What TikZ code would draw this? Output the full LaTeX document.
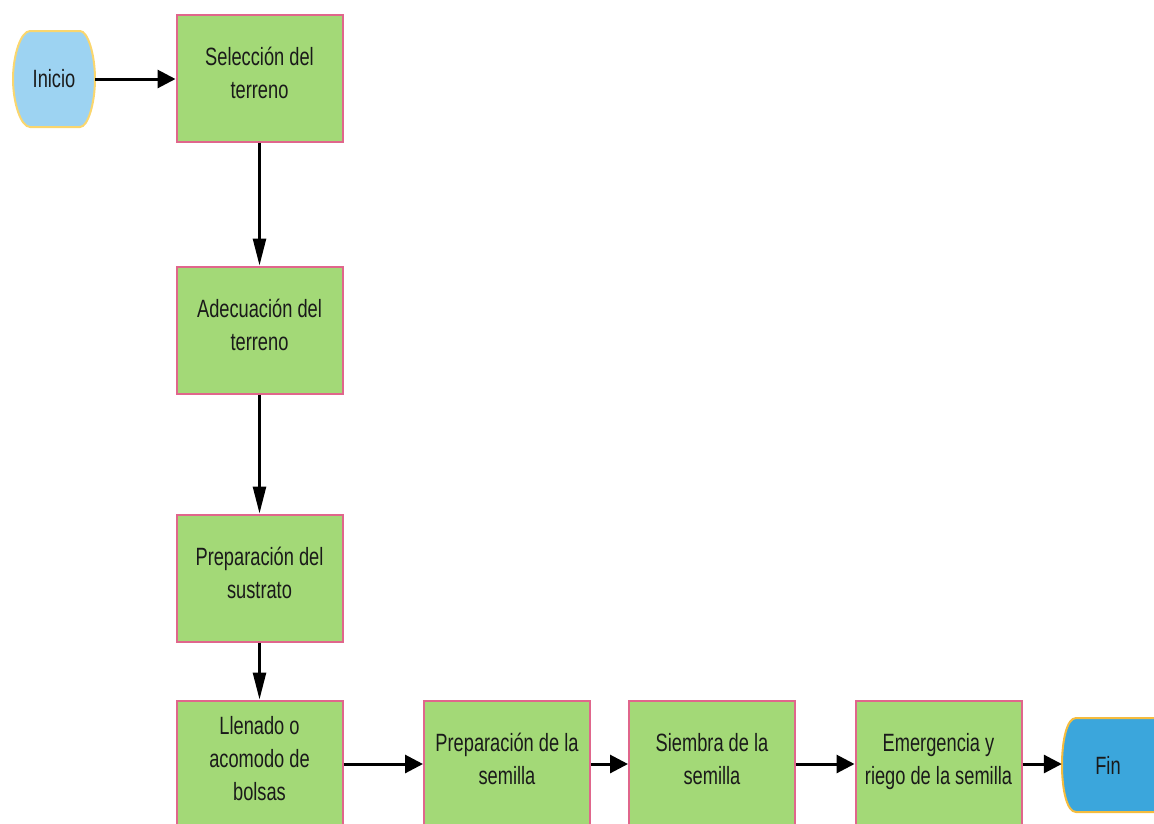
\documentclass[tikz,border=0pt]{standalone}
\usepackage{fontspec}
\newfontfamily\lblfont[FakeStretch=0.73]{Liberation Sans}
\usetikzlibrary{arrows.meta}
\definecolor{boxgreen}{HTML}{A3D977}
\definecolor{boxpink}{HTML}{E0668C}
\definecolor{startblue}{HTML}{9DD3F2}
\definecolor{startedge}{HTML}{FAD66E}
\definecolor{endblue}{HTML}{3BA6DC}
\definecolor{endedge}{HTML}{F5BC3E}
\definecolor{txt}{HTML}{1A1A1A}
\begin{document}
\begin{tikzpicture}[x=1pt,y=-1pt,
  lbl/.style={font=\lblfont\fontsize{25}{33}\selectfont, text=txt, align=center},
  stepbox/.style={lbl, draw=boxpink, line width=2pt, fill=boxgreen,
    minimum width=166pt, minimum height=127pt, inner sep=0pt, text depth=11pt},
  termnode/.style={lbl, inner sep=0pt},
  harrow/.style={line width=3pt, -{Triangle[length=18pt,width=18pt]}},
  varrow/.style={line width=2.6pt, -{Triangle[length=27pt,width=13pt]}}]
\useasboundingbox (0,0) rectangle (1154,823);
\clip (0,0) rectangle (1154,823);

% start terminator: flat top and bottom, bulging sides
\draw[fill=startblue, draw=startedge, line width=2pt]
  (30,31) -- (80,31) .. controls (88,31) and (95,55) .. (95,79)
  .. controls (95,103) and (88,127) .. (80,127) -- (30,127)
  .. controls (21,127) and (13,103) .. (13,79)
  .. controls (13,55) and (21,31) .. (30,31) -- cycle;
\node[termnode, minimum width=82pt, minimum height=96pt] (ini) at (54,79) {Inicio};

% end terminator
\draw[fill=endblue, draw=endedge, line width=2pt]
  (1076,718) -- (1170,718) -- (1170,812) -- (1076,812)
  .. controls (1067,812) and (1062,790) .. (1062,765)
  .. controls (1062,740) and (1067,718) .. (1076,718) -- cycle;
\node[termnode, minimum width=92pt, minimum height=94pt] (fin) at (1108,765) {Fin};

% process steps
\node[stepbox] (sel) at (259.5,78)  {Selección del\\terreno};
\node[stepbox] (ade) at (259.5,330) {Adecuación del\\terreno};
\node[stepbox] (sus) at (259.5,578) {Preparación del\\sustrato};
\node[stepbox] (lle) at (259.5,764) {Llenado o\\acomodo de\\bolsas};
\node[stepbox] (sem) at (507,764)   {Preparación de la\\semilla};
\node[stepbox] (sie) at (712,764)   {Siembra de la\\semilla};
\node[stepbox] (eme) at (938.5,764) {Emergencia y\\riego de la semilla};

% connectors
\draw[harrow] (ini.east) -- (sel.west |- ini.east);
\draw[varrow] (sel.south) -- (ade.north);
\draw[varrow] (ade.south) -- (sus.north);
\draw[varrow] (sus.south) -- (lle.north);
\draw[harrow] (lle.east) -- (sem.west);
\draw[harrow] (sem.east) -- (sie.west);
\draw[harrow] (sie.east) -- (eme.west);
\draw[harrow] (eme.east) -- (fin.west |- eme.east);
\end{tikzpicture}
\end{document}
